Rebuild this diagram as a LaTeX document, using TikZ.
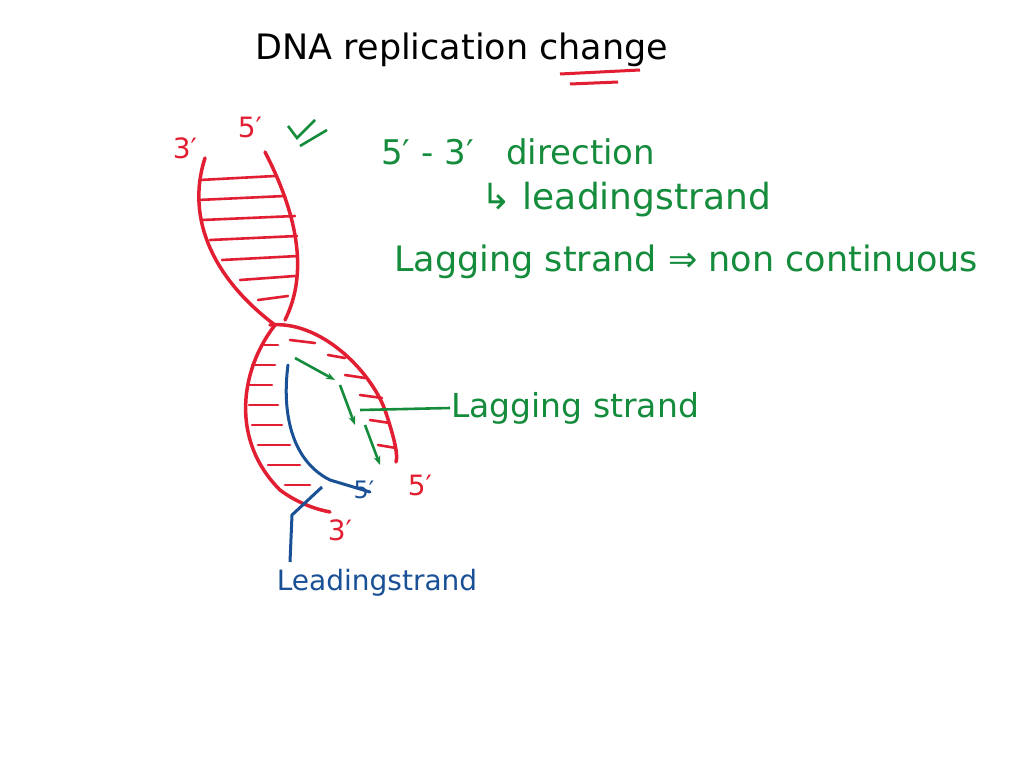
\documentclass[tikz,border=0pt]{standalone}
\usepackage{fontspec}
\usetikzlibrary{arrows.meta}
\setmainfont{DejaVu Sans}
\definecolor{rd}{RGB}{226,30,50}
\definecolor{gn}{RGB}{20,140,60}
\definecolor{bl}{RGB}{25,80,150}
\tikzset{red strand/.style={rd,line width=3.5pt,line cap=round},
 rung/.style={rd,line width=2.6pt,line cap=round},
 txt/.style={inner sep=1pt},
 gtxt/.style={txt,text=gn,font=\fontsize{34}{36}\selectfont},
 arr/.style={gn,line width=2.6pt,-{Stealth[length=9pt]}}}
\begin{document}
\begin{tikzpicture}[x=1pt,y=-1pt]
\useasboundingbox (0,0) rectangle (1024,768);
\fill[white] (0,0) rectangle (1024,768);
% title
\node[txt,font=\fontsize{35}{36}\selectfont] (title) at (462,50) {DNA replication change};
\draw[rd,line width=3pt] (560,74) -- (640,70);
\draw[rd,line width=3pt] (570,84) -- (618,82);
% helix
\draw[red strand] (205,158) .. controls (185,220) and (215,280) .. (275,325)
  .. controls (240,370) and (230,440) .. (280,490) .. controls (300,505) and (320,510) .. (330,512);
\draw[red strand] (265,152) .. controls (295,210) and (310,270) .. (285,320);
\draw[red strand] (270,325) .. controls (320,320) and (370,370) .. (385,410) .. controls (395,440) and (398,455) .. (396,462);
\foreach \y/\a/\b in {180/200/275,200/198/285,220/202/295,240/210/297,260/222/298,280/240/295,300/258/288}
  \draw[rung] (\a,\y) -- (\b,\y-4);
\foreach \y/\a/\b in {345/263/278,365/252/275,385/248/272,405/249/278,425/252/282,445/258/290,465/268/300,485/285/310}
  \draw[rung] (\a,\y) -- (\b,\y);
\foreach \y/\a/\b in {340/290/315,355/328/345,375/345/365,395/360/382,420/370/390,445/378/396}
  \draw[rung] (\a,\y) -- (\b,\y+3);
% labels on helix
\node[txt,text=rd,font=\fontsize{28}{30}\selectfont] (t3) at (185,148) {3′};
\node[txt,text=rd,font=\fontsize{28}{30}\selectfont] (t5) at (250,127) {5′};
\draw[gn,line width=2.6pt] (288,126) -- (297,138) -- (315,120);
\draw[gn,line width=2.6pt] (300,146) -- (327,130);
% blue strand
\draw[bl,line width=3pt,line cap=round] (288,365) .. controls (282,410) and (290,460) .. (330,480) -- (370,492);
\node[txt,text=bl,font=\fontsize{24}{26}\selectfont] (b5) at (364,490) {5′};
\node[txt,text=rd,font=\fontsize{28}{30}\selectfont] (r5) at (420,485) {5′};
\node[txt,text=rd,font=\fontsize{28}{30}\selectfont] (r3) at (340,530) {3′};
% green arrows
\draw[arr] (295,358) -- (335,380);
\draw[arr] (340,385) -- (355,425);
\draw[arr] (365,425) -- (380,465);
\coordinate (lg) at (360,410);
\node[gtxt,anchor=west,font=\fontsize{33}{36}\selectfont] (lag) at (450,408) {Lagging strand};
\draw[gn,line width=2.6pt] (lg) -- (lag.west);
% blue leading
\node[txt,text=bl,font=\fontsize{28}{30}\selectfont] (lead) at (377,583) {Leadingstrand};
\coordinate (bc) at (322,487);
\draw[bl,line width=3pt] (bc) -- (292,515) -- (290,562);
% green texts
\node[gtxt,anchor=west] (d1) at (380,152) {5′ - 3′ \ \ direction};
\node[gtxt,anchor=west,font=\fontsize{36}{38}\selectfont] (d2) at (480,200) {↳ leadingstrand};
\node[gtxt,anchor=west,font=\fontsize{35}{38}\selectfont] (d3) at (393,262) {Lagging strand ⇒ non continuous};
\end{tikzpicture}
\end{document}
